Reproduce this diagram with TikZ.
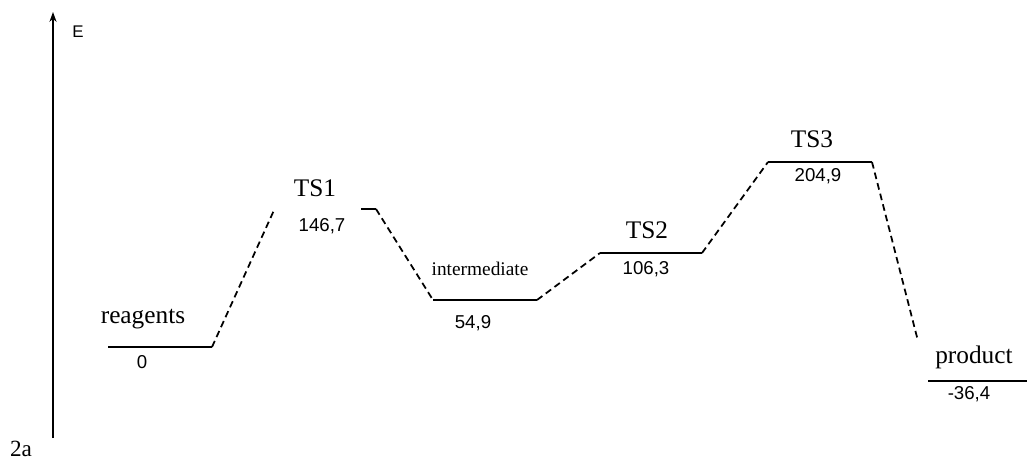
\documentclass[tikz,border=0pt]{standalone}
\usepackage{fontspec}
\setmainfont{Liberation Serif}
\setsansfont{Liberation Sans}
\usetikzlibrary{positioning,arrows.meta}

\begin{document}
\begin{tikzpicture}[x=0.01cm, y=-0.01cm,
		level/.style={line width=0.55pt},
		link/.style={line width=0.5pt, dash pattern=on 1.9pt off 1.2pt},
		axis/.style={-{Stealth[length=2.8pt,width=2.0pt]}, line width=0.65pt},
		stname/.style={font=\fontsize{7.2}{8}\selectfont, inner sep=0pt, anchor=base},
		energy/.style={font=\sffamily\fontsize{5.3}{6}\selectfont, inner sep=0pt, anchor=base},
	]
		\useasboundingbox (0,0) rectangle (1027,469);

		% Energieachse
		\coordinate (ebot) at (53,438);
		\coordinate (etop) at (53,12);
		\draw[axis] (ebot) -- (etop);
		\node[font=\sffamily\fontsize{4.8}{5}\selectfont, inner sep=0pt] (elabel) at (78,32) {E};
		\node[font=\fontsize{6.6}{7}\selectfont, inner sep=0pt, anchor=base] (tag) at (21,456) {2a};

		% Niveaus
		\coordinate (r1) at (108,347); \coordinate (r2) at (212,347);
		\coordinate (t1a) at (275,208); \coordinate (t1c) at (361,209); \coordinate (t1b) at (376,209);
		\coordinate (i1) at (433,300); \coordinate (i2) at (537,300);
		\coordinate (t2a) at (600,253); \coordinate (t2b) at (702,253);
		\coordinate (t3a) at (768,162); \coordinate (t3b) at (872,162);
		\coordinate (pend) at (918,341);
		\coordinate (p1) at (928,381); \coordinate (p2) at (1027,381);

		\draw[level] (r1) -- (r2);
		\draw[level] (t1c) -- (t1b);
		\draw[level] (i1) -- (i2);
		\draw[level] (t2a) -- (t2b);
		\draw[level] (t3a) -- (t3b);
		\draw[level] (p1) -- (p2);

		% Reaktionsweg
		\draw[link] (r2) -- (t1a);
		\draw[link] (t1b) -- (i1);
		\draw[link] (i2) -- (t2a);
		\draw[link] (t2b) -- (t3a);
		\draw[link] (t3b) -- (pend);

		% Beschriftungen
		\node[stname] (reag) at (143,323) {reagents};
		\node[energy] (e0) at (142,368) {0};
		\node[stname] (ts1) at (315,196) {TS1};
		\node[energy] (e1) at (322,231) {146,7};
		\node[stname, font=\fontsize{5.5}{6}\selectfont] (inter) at (480,275) {intermediate};
		\node[energy] (e2) at (473,328) {54,9};
		\node[stname] (ts2) at (647,238) {TS2};
		\node[energy] (e3) at (646,274) {106,3};
		\node[stname] (ts3) at (812,147) {TS3};
		\node[energy] (e4) at (818,181) {204,9};
		\node[stname] (prod) at (974,363) {product};
		\node[energy] (e5) at (969,399) {-36,4};
	\end{tikzpicture}
\end{document}
